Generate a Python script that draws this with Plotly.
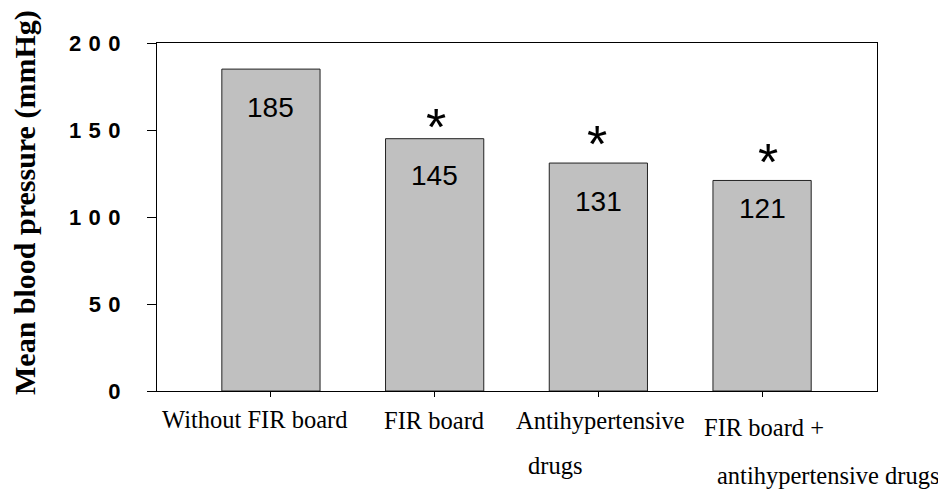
import plotly.graph_objects as go

# ---- data ----
categories = ["Without FIR board", "FIR board", "Antihypertensive drugs",
              "FIR board + antihypertensive drugs"]
values = [185, 145, 131, 121]
significant = [False, True, True, True]
value_label_y = [163, 124, 109, 105]     # data-y where each value label sits
asterisk_y = [None, 158, 148, 138]       # data-y where the asterisk sits
asterisk_dx = [0, 1, -1, 6]              # small horizontal offsets (px) of asterisks
SP = "\u2004"
y_tickvals = [0, 50, 100, 150, 200]
y_ticktext = ["0", SP.join("50"), SP.join("100"), SP.join("150"), SP.join("200")]
y_title = "Mean blood pressure (mmHg)"

# page geometry (the html body adds an 8px offset)
OFF = 8
W, H = 946, 489
L, R, T, B = 157, 69, 43, 98          # in page pixels
PW, PH = W - L - R, H - T - B
Y0 = H - B                            # page y of the x axis

# category label lines: (text, anchor-x pixel, xanchor, baseline pixel)
cat_lines = [
    ("Without FIR board", 254, "center", 427),
    ("FIR board", 433.5, "center", 428),
    ("Antihypertensive", 600, "center", 428),
    ("drugs", 554.5, "center", 473),
    ("FIR board +", 702, "left", 435),
    ("antihypertensive drugs", 715, "left", 483),
]

SANS = "Liberation Sans, Arial, sans-serif"
SERIF = "Liberation Serif, Times New Roman, serif"

fig = go.Figure()
fig.add_trace(go.Bar(
    x=list(range(len(values))), y=values, width=0.6,
    marker=dict(color="#c0c0c0", line=dict(color="#222222", width=1)),
    hoverinfo="skip",
))

ann = []
for i, (v, ly) in enumerate(zip(values, value_label_y)):
    ann.append(dict(x=i, y=ly, xref="x", yref="y", text=str(v), showarrow=False,
                    font=dict(family=SANS, size=28, color="black"),
                    xanchor="center", yanchor="middle"))
for i, (sig, ay, dx) in enumerate(zip(significant, asterisk_y, asterisk_dx)):
    if sig:
        ann.append(dict(x=i, y=ay, xref="x", yref="y", text="*", showarrow=False,
                        font=dict(family=SANS, size=52, color="black"),
                        xanchor="center", yanchor="middle", yshift=-11, xshift=dx))

FS = 24.5
for txt, px, xa, base in cat_lines:
    ann.append(dict(x=(px - L) / PW, y=0, xref="paper", yref="paper", text=txt,
                    showarrow=False, font=dict(family=SERIF, size=FS, color="black"),
                    xanchor=xa, yanchor="middle", yshift=-(base - 8 - Y0)))

ann.append(dict(x=(25 - L) / PW, y=0, xref="paper", yref="paper", text="<b>" + y_title + "</b>",
                showarrow=False, textangle=-90,
                font=dict(family=SERIF, size=30, color="black"),
                xanchor="center", yanchor="middle", yshift=Y0 - 203))

fig.update_layout(
    width=W - OFF, height=H - OFF,
    margin=dict(l=L - OFF, r=R, t=T - OFF, b=B, pad=0),
    paper_bgcolor="white", plot_bgcolor="white",
    showlegend=False,
    annotations=ann,
)
fig.update_xaxes(
    range=[-0.696, 3.702], tickvals=list(range(len(values))), ticktext=[""] * len(values),
    ticks="outside", ticklen=5, tickwidth=1.3, tickcolor="black",
    showline=True, linecolor="black", linewidth=1.3, mirror=True,
    showgrid=False, zeroline=False,
)
fig.update_yaxes(
    range=[0, 200], tickvals=y_tickvals, ticktext=y_ticktext,
    ticks="outside", ticklen=9, tickwidth=1.3, tickcolor="black",
    showline=True, linecolor="black", linewidth=1.3, mirror=True,
    showgrid=False, zeroline=False,
    tickfont=dict(family=SANS, size=22, color="black", weight="bold"),
    ticklabelstandoff=22,
)

fig.write_html("out.html")
